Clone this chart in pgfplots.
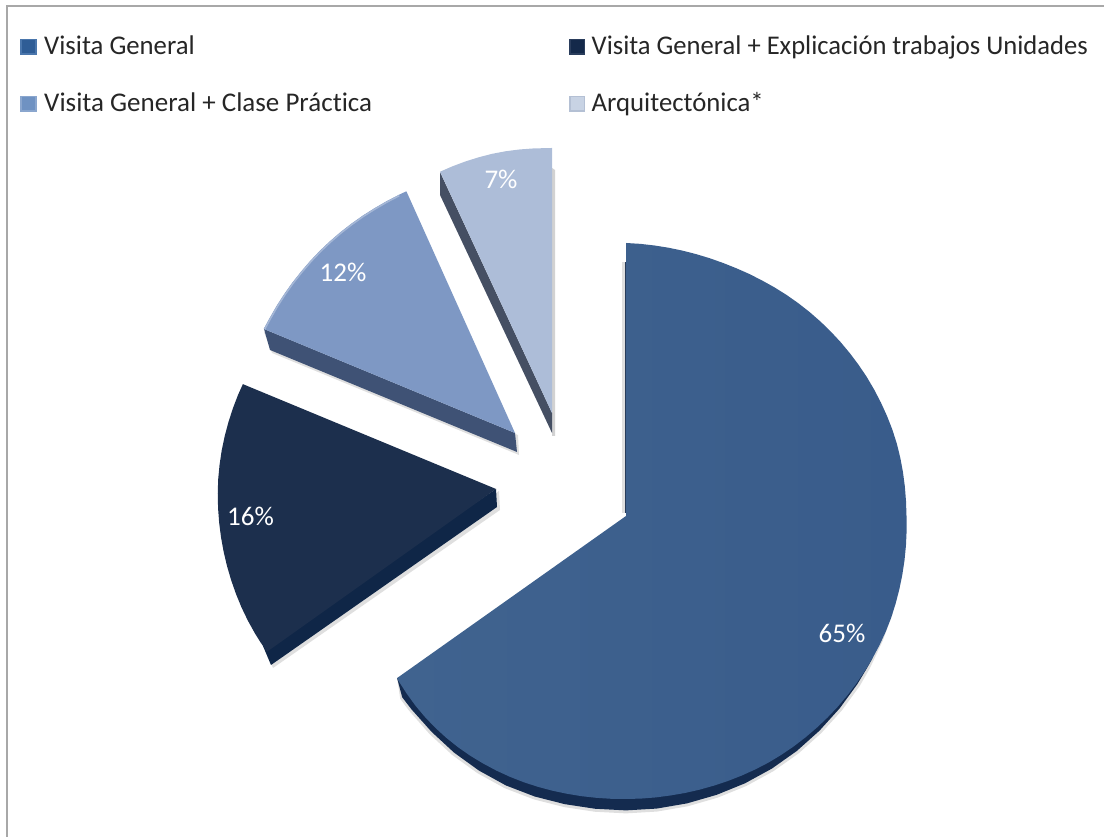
\documentclass[border=0pt]{standalone}
\usepackage{graphicx}
\usepackage{pgfplots}
\pgfplotsset{compat=1.18}
\usepackage{fontspec}
\setmainfont{Carlito}[Ligatures=NoCommon]
\definecolor{cAl}{HTML}{40638F}
\definecolor{cAr}{HTML}{395C8B}
\definecolor{cAs}{HTML}{142B4F}
\definecolor{cB}{HTML}{1C2F4D}
\definecolor{cBs}{HTML}{0F2647}
\definecolor{cC}{HTML}{7E98C4}
\definecolor{cCs}{HTML}{3F5275}
\definecolor{cD}{HTML}{ADBDD8}
\definecolor{cDs}{HTML}{454F63}
\definecolor{frame}{HTML}{A8A8A8}
\definecolor{sqAo}{HTML}{4A76AC}
\definecolor{sqAi}{HTML}{2F5D96}
\definecolor{sqBo}{HTML}{2A3D5C}
\definecolor{sqBi}{HTML}{14294A}
\definecolor{sqCo}{HTML}{8AA6CE}
\definecolor{sqCi}{HTML}{6F92C2}
\definecolor{sqDo}{HTML}{B4C0D4}
\definecolor{sqDi}{HTML}{C8D3E4}
\newcommand{\legtxt}{\fontsize{27}{30}\selectfont}
\newcommand{\lt}[1]{\scalebox{0.99}[1]{#1}}
\newcommand{\pcttxt}{\fontsize{27}{30}\selectfont\color{white}}
\begin{document}
\begin{tikzpicture}
\path (0pt,0pt) rectangle (1104pt,837pt);
\begin{axis}[
  scale only axis, width=1104pt, height=837pt,
  xmin=0, xmax=1104, ymin=0, ymax=837,
  hide axis, clip=true]
% frame
\addplot[frame, line width=2pt] coordinates {(7,0) (7,831) (1104,831)};
% main slice: 65
\addplot[draw=none, fill=gray!25] coordinates {(621.5,575) (625,575) (625,324) (621.5,324)};
\addplot[draw=none, fill=cAs!80!gray] coordinates {(624.5,575) (626,575) (626,324) (624.5,324)};
\addplot[draw=none, fill=gray!25, data cs=polar, xshift=626pt, yshift=321pt] coordinates {
 (-20,284) (-26,285.5) (-32,287.5) (-36,289) (-42,290.5) (-48,292) (-54,293.5) (-60,294.7) (-66,295.6) (-72,296.2) (-78,296.8) (-84,297.2) (-90,297.4) (-96,297.4) (-102,297.6) (-108,298) (-114,298) (-120,297) (-126,295.5) (-132,293.5) (-138,291.5) (-141,290.5) (-144.7,280.5)};
\addplot[draw=none, fill=cAs, data cs=polar, xshift=626pt, yshift=321pt] coordinates {
 (-30,284.6) (-32,284.9) (-36,286) (-42,287.5) (-48,289) (-54,290.5) (-60,291.7) (-66,292.6) (-72,293.2) (-78,293.8) (-84,294.2) (-90,294.4) (-96,294.4) (-102,294.6) (-108,295) (-114,295) (-120,294) (-126,292.5) (-132,290.5) (-138,288.8) (-141,288) (-144.7,280.5)};
\addplot[draw=none, left color=cAl, right color=cAr, data cs=polar, xshift=626pt, yshift=321pt] coordinates {
 (0,0) (90,273) (87,272.5) (84,272) (81,271.6) (78,271.3) (75,271.1) (72,271) (69,271) (66,271.2) (63,271.6) (60,272) (57,272.6) (54,273.2) (51,273.8) (48,274.4) (45,275) (42,275.6) (39,276.2) (36,276.8) (33,277.4) (30,278) (27,278.5) (24,279) (21,279.5) (18,280) (15,280.3) (12,280.4) (9,280.4) (6,280.4) (3,280.4) (0,280.5)
 (-3,281) (-6,281.5) (-9,282) (-12,282.5) (-15,283) (-18,283.5) (-21,284) (-24,284.3) (-27,284.5) (-30,284.6) (-33,284.7) (-36,284.8) (-39,284.9) (-42,285) (-45,285) (-48,285) (-51,285) (-54,285) (-57,284.9) (-60,284.8) (-63,284.5) (-66,284.2) (-69,283.9) (-72,283.6) (-75,283.4) (-78,283.2) (-81,283) (-84,283) (-87,283) (-90,283)
 (-93,283.2) (-96,283.4) (-99,283.7) (-102,284) (-105,284.4) (-108,284.8) (-111,285.2) (-114,285.5) (-117,285.7) (-120,285.8) (-123,285.9) (-126,285.8) (-129,285.5) (-132,285) (-135,284.3) (-138,283.4) (-141,282.2) (-144,281) (-144.7,280.5)};
% slice: 16
\addplot[draw=none, fill=gray!25] coordinates {(499,346) (500,327) (273,169) (264,190)};
\addplot[draw=none, fill=cBs] coordinates {(496,348) (497,330) (271,172) (263,191)};
\addplot[draw=none, fill=cB, data cs=polar, xshift=496pt, yshift=348pt] coordinates {
 (0,0) (157.5,274) (160,274.6) (163,275.2) (166,275.8) (169,276.4) (172,277) (175,277.5) (178,278) (181,278.3) (184,278.6) (187,278.9) (190,279.2) (193,279.5) (196,279.8) (199,280.1) (202,280.4) (205,280.7) (208,280.9) (211,281) (213,281) (215.4,281)};
% slice: 12
\addplot[draw=none, fill=gray!25] coordinates {(264,505) (518,402) (519,382) (272,484)};
\addplot[draw=none, fill=cCs] coordinates {(264,508) (515,404) (517,385) (270,487)};
\addplot[draw=none, fill=cC, data cs=polar, xshift=515pt, yshift=404pt] coordinates {
 (0,0) (157.5,272) (155,271) (152,270.2) (149,269.4) (146,268.7) (143,268) (140,267.5) (137,267) (134,266.5) (131,266.1) (128,265.7) (125,265.4) (122,265.1) (119,265) (116,265) (114.2,265)};
\addplot[line width=1.5pt, color=cC!70!white, data cs=polar, xshift=515pt, yshift=404pt] coordinates {
 (157.5,271) (155,270) (152,269.2) (149,268.4) (146,267.7) (143,267) (140,266.5) (137,266) (134,265.5) (131,265.1) (128,264.7) (125,264.4) (122,264.1) (119,264) (116,264)};
% slice: 7
\addplot[draw=none, fill=gray!35] coordinates {(552,669) (555,667) (555,401) (552,401)};
\addplot[draw=none, fill=cDs] coordinates {(440,665) (552,424) (552,404) (440,642)};
\addplot[draw=none, fill=cD, data cs=polar, xshift=552pt, yshift=424pt] coordinates {
 (0,0) (114.9,266) (112,266) (109,266) (106,266) (103,266) (100,265.8) (97,265.5) (94,265.2) (90,265)};
% legend squares
\addplot[only marks, mark=square*, mark size=7.7pt, mark options={fill=sqAo, draw=sqAo, line width=0pt}] coordinates {(28.5,790)};
\addplot[only marks, mark=square*, mark size=6pt, mark options={fill=sqAi, draw=sqAi, line width=0pt}] coordinates {(28.5,790)};
\addplot[only marks, mark=square*, mark size=7.7pt, mark options={fill=sqBo, draw=sqBo, line width=0pt}] coordinates {(577,790)};
\addplot[only marks, mark=square*, mark size=6pt, mark options={fill=sqBi, draw=sqBi, line width=0pt}] coordinates {(577,790)};
\addplot[only marks, mark=square*, mark size=7.7pt, mark options={fill=sqCo, draw=sqCo, line width=0pt}] coordinates {(28.5,733)};
\addplot[only marks, mark=square*, mark size=6pt, mark options={fill=sqCi, draw=sqCi, line width=0pt}] coordinates {(28.5,733)};
\addplot[only marks, mark=square*, mark size=7.7pt, mark options={fill=sqDo, draw=sqDo, line width=0pt}] coordinates {(577,733)};
\addplot[only marks, mark=square*, mark size=6pt, mark options={fill=sqDi, draw=sqDi, line width=0pt}] coordinates {(577,733)};
% texts
\node[anchor=base west, inner sep=0pt, font=\legtxt, text=black!85] at (axis cs:44,782) {\lt{Visita General}};
\node[anchor=base west, inner sep=0pt, font=\legtxt, text=black!85] at (axis cs:591.5,782) {\scalebox{0.985}[1]{Visita General + Explicación trabajos Unidades}};
\node[anchor=base west, inner sep=0pt, font=\legtxt, text=black!85] at (axis cs:44,725) {\scalebox{1.0}[1]{Visita General + Clase Práctica}};
\node[anchor=base west, inner sep=0pt, font=\legtxt, text=black!85] at (axis cs:591.5,725) {\lt{Arquitectónica*}};
\node[font=\pcttxt] at (axis cs:842,204) {65\%};
\node[font=\pcttxt] at (axis cs:250.5,321) {16\%};
\node[font=\pcttxt] at (axis cs:343,565) {12\%};
\node[font=\pcttxt] at (axis cs:501,658) {7\%};
\end{axis}
\end{tikzpicture}
\end{document}
